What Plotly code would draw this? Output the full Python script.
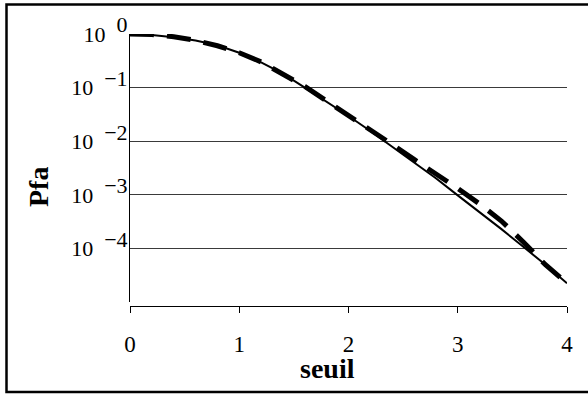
import plotly.graph_objects as go

# Threshold values (seuil) and false-alarm probabilities (Pfa)
seuil = [0.0, 0.2, 0.4, 0.6, 0.8, 1.0, 1.2, 1.4, 1.6, 1.8, 2.0,
         2.2, 2.4, 2.6, 2.8, 3.0, 3.2, 3.4, 3.6, 3.8, 4.0]

pfa_theorique = [1.0, 0.955, 0.871, 0.759, 0.617, 0.447, 0.295, 0.182, 0.100,
                 0.0550, 0.0295, 0.0155, 0.00794, 0.00407, 0.00204, 0.000977,
                 0.000479, 0.000229, 0.000107, 5.01e-5, 2.24e-5]

pfa_simulee = [1.0, 0.977, 0.891, 0.759, 0.603, 0.447, 0.302, 0.182, 0.105,
               0.0562, 0.0302, 0.0170, 0.00871, 0.00457, 0.00251, 0.00132,
               0.000676, 0.000324, 0.000132, 5.01e-5, 2.24e-5]

y_tickvals = [1, 0.1, 0.01, 0.001, 0.0001]
y_exponents = ["0", "\u22121", "\u22122", "\u22123", "\u22124"]
x_tickvals = [0, 1, 2, 3, 4]

FONT = "Liberation Serif"

y_ticktext = [
    "10\u2002<sup><span style='font-size:22px'>%s</span></sup>" % e
    for e in y_exponents
]

fig = go.Figure()

fig.add_trace(go.Scatter(
    x=seuil, y=pfa_simulee, mode="lines",
    line=dict(color="black", width=5, dash="24px,13px"),
    showlegend=False,
))
fig.add_trace(go.Scatter(
    x=seuil, y=pfa_theorique, mode="lines",
    line=dict(color="black", width=2),
    showlegend=False,
))

# page geometry (pixels)
W, H = 588, 394
L, R, T, B = 130, 21, 34, 88
pw, ph = W - L - R, H - T - B

def px_x(p):
    return (p - L) / pw

def px_y(p):
    return (H - B - p) / ph

fig.update_layout(
    width=W, height=H,
    margin=dict(l=L, r=R, t=T, b=B, pad=0),
    paper_bgcolor="white", plot_bgcolor="white",
    font=dict(family=FONT, color="black"),
    xaxis=dict(
        range=[0, 4], tickvals=x_tickvals,
        showline=True, linecolor="black", linewidth=1,
        ticks="outside", ticklen=6, tickcolor="black", tickwidth=1,
        showgrid=False, zeroline=False,
        tickfont=dict(family=FONT, size=23, color="black"),
        ticklabelstandoff=11,
        anchor="free", position=0,
    ),
    yaxis=dict(
        type="log", range=[-5, 0], domain=[4 / ph, 1],
        tickvals=y_tickvals, ticktext=y_ticktext,
        showline=True, linecolor="black", linewidth=1,
        ticks="", showgrid=True, gridcolor="#3a3a3a", gridwidth=1,
        zeroline=False,
        tickfont=dict(family=FONT, size=22, color="black"),
        ticklabelstandoff=-3,
    ),
    annotations=[
        dict(text="<b>seuil</b>", xref="paper", yref="paper",
             x=px_x(327), y=px_y(368), showarrow=False,
             xanchor="center", yanchor="middle",
             font=dict(family=FONT, size=28, color="black")),
        dict(text="<b>Pfa</b>", xref="paper", yref="paper",
             x=px_x(38), y=px_y(187), showarrow=False, textangle=-90,
             xanchor="center", yanchor="middle",
             font=dict(family=FONT, size=28, color="black")),
    ],
    shapes=[
        dict(type="rect", xref="paper", yref="paper",
             x0=px_x(6.5), x1=px_x(600), y0=px_y(392), y1=px_y(4.5),
             line=dict(color="black", width=2.5), layer="above"),
    ],
)

fig.write_html("out.html")
